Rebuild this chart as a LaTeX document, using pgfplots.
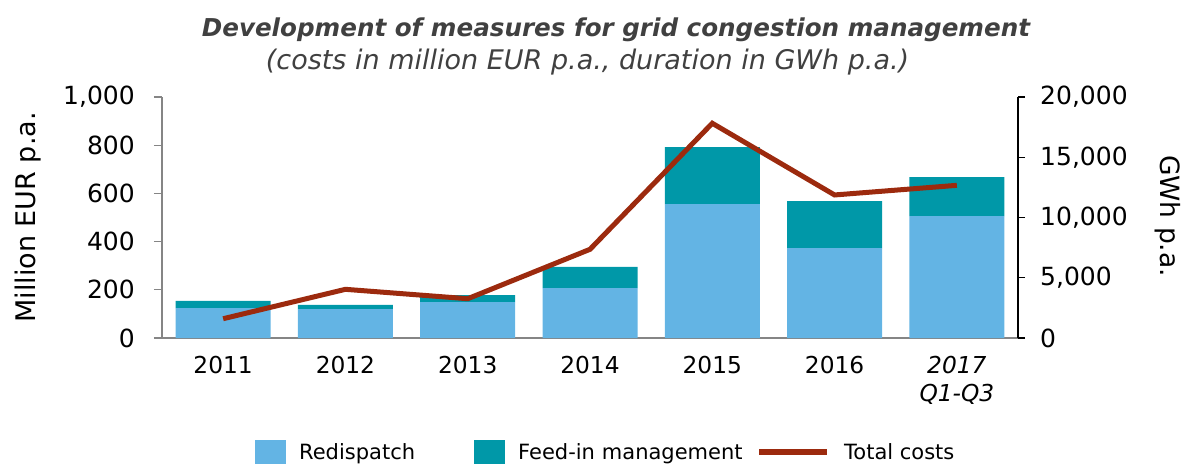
\documentclass[border=0pt]{standalone}
\usepackage{fontspec}
\setmainfont{DejaVu Sans}
\usepackage{pgfplots}
\usepackage{pgfplotstable}
\pgfplotsset{compat=1.18}
\definecolor{redisp}{HTML}{63B4E4}
\definecolor{feedin}{HTML}{0098A8}
\definecolor{totc}{HTML}{9C2A0E}
\definecolor{titlec}{HTML}{404040}
\definecolor{axgrey}{HTML}{858585}
\pgfplotsset{/pgf/number format/.cd, 1000 sep={,}, assume math mode=true}
\pgfplotsset{
  sqlegend/.style={legend image code/.code={\fill[##1] (0pt,-12pt) rectangle (31pt,12pt);}},
  lnlegend/.style={legend image code/.code={\draw[##1] (0pt,0pt) -- (68pt,0pt);}}
}

\pgfplotstableread{
x red feed gwh
0 124 30 1600
1 120 17 4040
2 149 29 3260
3 207 88 7360
4 556 236 17820
5 373 195 11870
6 506 162 12670
}\data

\begin{document}
\begin{tikzpicture}
\path[use as bounding box] (0pt,0pt) rectangle (1185pt,464pt);
\node[anchor=base, text=titlec, inner sep=0pt, font=\fontsize{24.6}{28}\selectfont\bfseries\itshape] at (616pt,427pt) {Development of measures for grid congestion management};
\node[anchor=base, text=titlec, inner sep=0pt, font=\fontsize{27}{30}\selectfont\itshape] at (587.5pt,394pt) {(costs in million EUR p.a., duration in GWh p.a.)};
\begin{axis}[
  at={(162pt,126pt)}, anchor=south west,
  width=856pt, height=241pt, scale only axis,
  xmin=-0.5, xmax=6.5, ymin=0, ymax=1000,
  ybar stacked, bar width=95pt,
  axis x line*=bottom, axis y line*=left,
  x axis line style={draw=axgrey, line width=1.2pt},
  y axis line style={draw=axgrey, line width=1.2pt},
  scaled y ticks=false,
  ytick={0,200,...,1000},
  xtick={0,...,6},
  xticklabels={2011,2012,2013,2014,2015,2016,{\itshape 2017\\\itshape Q1-Q3}},
  xtick style={draw=none},
  ytick style={draw=axgrey, line width=1.2pt},
  tick align=outside, major tick length=8pt,
  yticklabel style={font=\fontsize{25}{28}\selectfont, inner sep=0pt, xshift=-19pt},
  xticklabel style={font=\fontsize{23.3}{28}\selectfont, inner sep=0pt, anchor=north, yshift=-10pt, align=center},
  every axis y label/.style={at={(axis description cs:-0.1565,0.5)}, rotate=90, anchor=center, inner sep=0pt, font=\fontsize{27}{30}\selectfont},
  ylabel={Million EUR p.a.},
  legend columns=3,
  legend style={at={(axis description cs:0.1086,-0.473)}, anchor=west, draw=none, fill=none, inner sep=0pt, font=\fontsize{21}{24}\selectfont,
    cells={anchor=west, inner sep=0pt},
    /tikz/column 1/.style={column sep=11pt},
    /tikz/column 2/.style={column sep=0pt, text width=173pt},
    /tikz/column 3/.style={column sep=11pt},
    /tikz/column 4/.style={column sep=0pt, text width=236pt},
    /tikz/column 5/.style={column sep=12pt}},
]
\addplot[fill=redisp, draw=none, sqlegend] table[x=x,y=red]{\data};
\addlegendentry{Redispatch}
\addplot[fill=feedin, draw=none, sqlegend] table[x=x,y=feed]{\data};
\addlegendentry{Feed-in management}
\addlegendimage{totc, line width=6pt, lnlegend}
\addlegendentry{Total costs}
\end{axis}
\begin{axis}[
  at={(162pt,126pt)}, anchor=south west,
  width=856pt, height=241pt, scale only axis,
  xmin=-0.5, xmax=6.5, ymin=0, ymax=20000,
  axis x line=none, axis y line*=right,
  y axis line style={draw=black, line width=1.2pt},
  scaled y ticks=false,
  ytick={0,5000,...,20000},
  ytick style={draw=black, line width=1.2pt},
  tick align=outside, major tick length=7pt,
  yticklabel style={font=\fontsize{25}{28}\selectfont, inner sep=0pt, xshift=15pt},
  every axis y label/.style={at={(axis description cs:1.1752,0.506)}, rotate=-90, anchor=center, inner sep=0pt, font=\fontsize{26.5}{30}\selectfont},
  ylabel={GWh p.a.},
]
\addplot[totc, line width=5pt] table[x=x,y=gwh]{\data};
\end{axis}
\end{tikzpicture}
\end{document}
